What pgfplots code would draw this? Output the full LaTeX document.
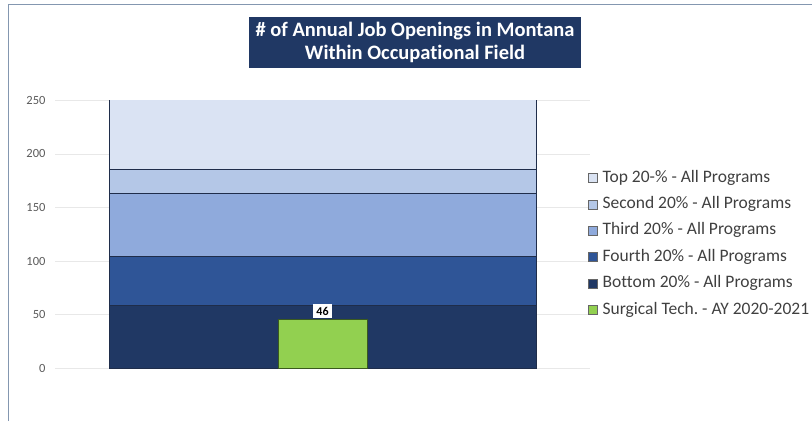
\documentclass[border=0pt]{standalone}
\usepackage{fontspec}
\setmainfont{Carlito}[Ligatures=NoCommon]
\usepackage{pgfplots}
\pgfplotsset{compat=1.18}
\definecolor{navy}{HTML}{203864}
\definecolor{topc}{HTML}{DAE3F3}
\definecolor{secc}{HTML}{B4C7E7}
\definecolor{thirdc}{HTML}{8FAADC}
\definecolor{fourc}{HTML}{2F5597}
\definecolor{botc}{HTML}{203864}
\definecolor{surg}{HTML}{92D050}
\definecolor{surgedge}{HTML}{3A5A1E}
\definecolor{edge}{HTML}{1F2D4A}
\definecolor{framec}{HTML}{8497B0}
\definecolor{tickc}{HTML}{595959}
\definecolor{legc}{HTML}{404040}
\pgfplotsset{
  sqlegend/.style={legend image code/.code={
    \draw[##1,draw=legc!80,line width=0.6pt] (0pt,-4.5pt) rectangle (9.5pt,4.5pt);}},
  base/.style={
    at={(55pt,52.7pt)}, anchor=south west,
    scale only axis, width=535pt, height=268pt,
    xmin=0, xmax=2, ymin=0, ymax=250,
    /pgf/number format/assume math mode=true,
  },
}
\frenchspacing

\begin{document}
\begin{tikzpicture}[x=1pt,y=1pt]
\useasboundingbox (0,0) rectangle (812,421);
\draw[framec, line width=1pt] (8,0) -- (8,416) -- (812,416);
\fill[navy] (249,353) rectangle (581,404);
\node[text=white, align=center, font=\bfseries\fontsize{20.5}{23}\selectfont]
  at (415,379) {\# of Annual Job Openings in Montana\\Within Occupational Field};

% stacked quintiles
\begin{axis}[
  base,
  ybar stacked, bar width=427pt,
  axis line style={draw=none},
  xtick=\empty, ytick={0,50,...,250},
  major tick length=0pt,
  ymajorgrids, grid style={draw=gray!18, line width=0.8pt},
  tick label style={font=\fontsize{12.5}{14}\selectfont, text=tickc},
  yticklabel style={xshift=-6pt},
]
\addplot[fill=botc, draw=edge, line width=0.8pt] coordinates {(1,59)};
\addplot[fill=fourc, draw=edge, line width=0.8pt] coordinates {(1,45)};
\addplot[fill=thirdc, draw=edge, line width=0.8pt] coordinates {(1,59)};
\addplot[fill=secc, draw=edge, line width=0.8pt] coordinates {(1,23)};
\addplot[fill=topc, draw=edge, line width=0.8pt] coordinates {(1,90)};
\end{axis}

% program bar + legend
\begin{axis}[
  base,
  hide axis,
  legend style={at={(0.995,0.464)}, anchor=west, draw=none, fill=none,
    font=\fontsize{17.5}{20}\selectfont, text=legc,
    row sep=10.9pt, column sep=4pt, inner sep=0pt,
    nodes={text height=12pt, text depth=3.5pt, inner ysep=0pt, inner xsep=1pt},
    cells={anchor=west}},
]
\addlegendimage{sqlegend, fill=topc}
\addlegendentry{Top 20-\% - All Programs}
\addlegendimage{sqlegend, fill=secc}
\addlegendentry{Second 20\% - All Programs}
\addlegendimage{sqlegend, fill=thirdc}
\addlegendentry{Third 20\% - All Programs}
\addlegendimage{sqlegend, fill=fourc}
\addlegendentry{Fourth 20\% - All Programs}
\addlegendimage{sqlegend, fill=botc}
\addlegendentry{Bottom 20\% - All Programs}
\addplot[ybar, bar width=89pt, fill=surg, draw=surgedge, line width=0.8pt,
  sqlegend,
  nodes near coords,
  every node near coord/.append style={font=\bfseries\fontsize{12}{14}\selectfont,
    text=black, fill=white, inner xsep=3pt, inner ysep=2.5pt, yshift=1pt}]
  coordinates {(1,46)};
\addlegendentry{Surgical Tech. - AY 2020-2021}
\end{axis}
\end{tikzpicture}
\end{document}
